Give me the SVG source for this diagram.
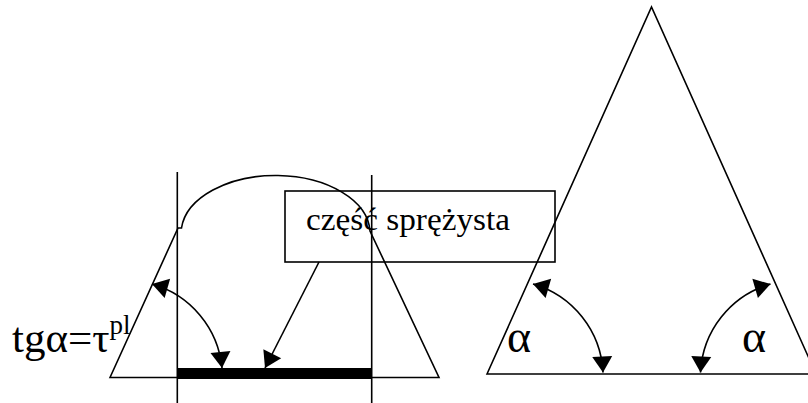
<svg xmlns="http://www.w3.org/2000/svg" width="808" height="403" viewBox="0 0 808 403">
<style>
.ln{fill:none;stroke:#000;stroke-width:1.6}
.ar{fill:none;stroke:#000;stroke-width:1.6;marker-start:url(#ah);marker-end:url(#ah)}
.t{font-family:"Liberation Serif","Times New Roman",serif;fill:#000}
</style>
<defs>
<marker id="ah" markerUnits="userSpaceOnUse" markerWidth="17" markerHeight="20" refX="16" refY="10" orient="auto-start-reverse" overflow="visible">
<path d="M0,0 L16,10 L0,20 z" fill="#000"/>
</marker>
<marker id="ae" markerUnits="userSpaceOnUse" markerWidth="17" markerHeight="20" refX="16" refY="10" orient="auto" overflow="visible">
<path d="M0,0 L16,10 L0,20 z" fill="#000"/>
</marker>
</defs>
<rect width="808" height="403" fill="#fff"/>
<g id="trapezoid">
<path class="ln" d="M110,377.5 L178,228 L181.5,228 A 94.5 58 0 0 1 370,231 L439,377.5 Z"/>
</g>
<g id="verticals">
<line class="ln" x1="177.3" y1="172" x2="177.3" y2="403"/>
<line class="ln" x1="371.7" y1="175" x2="371.7" y2="403"/>
</g>
<g id="bar">
<rect x="177" y="368" width="195" height="11" fill="#000"/>
</g>
<g id="triangle">
<path class="ln" d="M487,374 L651.5,7 L816,374 Z"/>
</g>
<g id="label-box">
<rect x="285" y="191" width="270" height="71" fill="none" stroke="#000" stroke-width="1.6"/>
<text class="t" x="306" y="230" font-size="31" textLength="204" lengthAdjust="spacingAndGlyphs">część sprężysta</text>
</g>
<g id="connectors">
<path class="ar" d="M152,284 A 97 97 0 0 1 222,368"/>
<path class="ln" d="M319,262 L265,368" marker-end="url(#ae)"/>
<path class="ar" d="M533,284 A 97 97 0 0 1 603,372.5"/>
<path class="ar" d="M770.5,284 A 97 97 0 0 0 700.5,372.5"/>
</g>
<g id="labels">
<text class="t" x="12" y="352" font-size="43">tgα=τ<tspan font-size="27" dy="-18">pl</tspan></text>
<text class="t" x="507" y="352" font-size="46">α</text>
<text class="t" x="742" y="352" font-size="46">α</text>
</g>
</svg>
